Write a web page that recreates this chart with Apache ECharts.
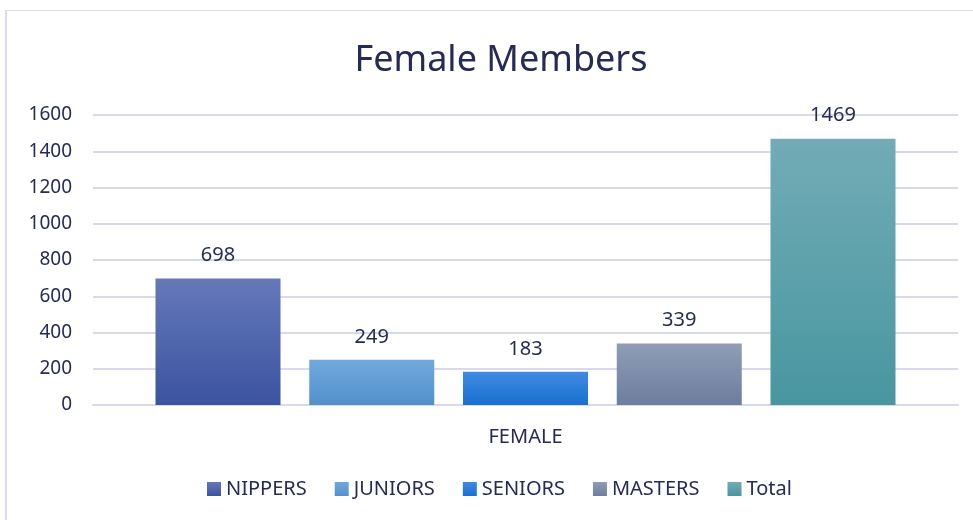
<!DOCTYPE html>
<html>
<head>
<meta charset="utf-8">
<script src="https://cdn.jsdelivr.net/npm/echarts@6/dist/echarts.min.js"></script>
<style>
  html, body { margin: 0; padding: 0; background: #fff; }
  #chart { width: 973px; height: 520px; }
</style>
</head>
<body>
<div id="chart"></div>
<script>
const categories = ["FEMALE"];
const seriesNames = ["NIPPERS", "JUNIORS", "SENIORS", "MASTERS", "Total"];
const seriesValues = [[698], [249], [183], [339], [1469]];
const yTicks = [0, 200, 400, 600, 800, 1000, 1200, 1400, 1600];

// top / bottom colour of each bar gradient
const barColors = [
  ["#6578b9", "#3b54a0"],
  ["#70a9dd", "#5390cb"],
  ["#408be1", "#1870d0"],
  ["#8f9db5", "#6d7d9f"],
  ["#72acb6", "#4896a0"],
];
const textColor = "#262a56";
const font = "Noto Sans";

const chart = echarts.init(document.getElementById("chart"));

const series = seriesNames.map((name, i) => ({
  name: name,
  type: "bar",
  data: seriesValues[i],
  barWidth: 125,
  barGap: "23%",
  itemStyle: {
    color: new echarts.graphic.LinearGradient(0, 0, 0, 1, [
      { offset: 0, color: barColors[i][0] },
      { offset: 1, color: barColors[i][1] },
    ]),
  },
  label: {
    show: true,
    position: "top",
    distance: 13,
    color: textColor,
    fontFamily: font,
    fontSize: 20,
  },
}));

chart.setOption({
  backgroundColor: "#fff",
  animation: false,
  title: {
    text: "Female Members",
    left: 496,
    top: 38,
    textAlign: "center",
    textStyle: { color: textColor, fontFamily: font, fontSize: 36, fontWeight: "normal" },
  },
  // thin frame on the left and top
  graphic: [
    { type: "line", shape: { x1: 6, y1: 10, x2: 6, y2: 520 }, style: { stroke: "#dadaf0", lineWidth: 2 } },
    { type: "line", shape: { x1: 5, y1: 10.5, x2: 973, y2: 10.5 }, style: { stroke: "#dadaf0", lineWidth: 1 } },
  ],
  legend: {
    data: seriesNames,
    bottom: 16,
    left: 202,
    icon: "rect",
    itemWidth: 14,
    itemHeight: 14,
    itemGap: 28,
    textStyle: { color: textColor, fontFamily: font, fontSize: 20 },
  },
  grid: { left: 93, right: 15, top: 115, bottom: 115 },
  xAxis: {
    type: "category",
    data: categories,
    axisTick: { show: false },
    axisLine: { lineStyle: { color: "#d9d9ee", width: 2 } },
    axisLabel: { color: textColor, fontFamily: font, fontSize: 20, margin: 22 },
  },
  yAxis: {
    type: "value",
    min: yTicks[0],
    max: yTicks[yTicks.length - 1],
    interval: 200,
    axisLine: { show: false },
    axisTick: { show: false },
    splitLine: { lineStyle: { color: "#d9d9ee", width: 2 } },
    axisLabel: {
      color: textColor,
      fontFamily: font,
      fontSize: 19,
      margin: 21,
      formatter: (v) => String(v),
    },
  },
  series: series,
});
</script>
</body>
</html>
